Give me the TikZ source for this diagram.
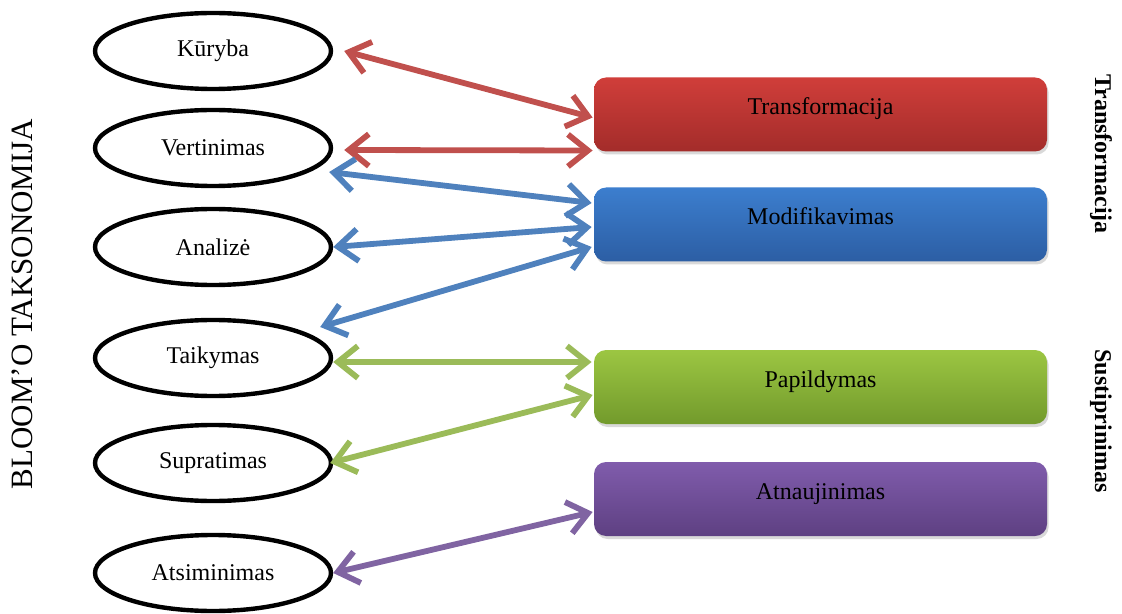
\documentclass[tikz,border=0pt]{standalone}
\usepackage{fontspec}
\setmainfont{Liberation Serif}
\usetikzlibrary{arrows.meta,calc,shadows,shapes.geometric}
\definecolor{redline}{RGB}{192,80,77}
\definecolor{blueline}{RGB}{79,129,189}
\definecolor{greenline}{RGB}{155,187,89}
\definecolor{purpleline}{RGB}{128,100,162}
\begin{document}
\begin{tikzpicture}[x=0.5pt,y=-0.5pt,
    level/.style={ellipse, draw, line width=2.2pt, minimum width=118pt, minimum height=38pt, inner sep=0pt, font=\fontsize{12}{14}\selectfont},
    phase/.style={rectangle, rounded corners=6pt, minimum width=226.5pt, minimum height=37pt, text height=6pt, text depth=6pt, font=\fontsize{12}{14}\selectfont, drop shadow={shadow xshift=0.8pt, shadow yshift=-1.5pt, opacity=0.3}},
    link/.style={line width=2.9pt, {Straight Barb[length=10pt,width=16pt]}-{Straight Barb[length=10pt,width=16pt]}}]
    \useasboundingbox (0,0) rectangle (1122,614);
    % taxonomy levels
    \node[level] (kuryba) at (213,51) {Kūryba};
    \node[level] (vertinimas) at (213,148) {Vertinimas};
    \node[level] (analize) at (213,247) {Analizė};
    \node[level] (taikymas) at (213,358) {Taikymas};
    \node[level] (supratimas) at (213,463) {Supratimas};
    \node[level] (atsiminimas) at (213,573) {Atsiminimas};
    % technology use
    \node[phase, top color={rgb,255:red,208;green,62;blue,58}, bottom color={rgb,255:red,163;green,44;blue,42}] (transf) at (820.5,114.5) {Transformacija};
    \node[phase, top color={rgb,255:red,60;green,126;blue,206}, bottom color={rgb,255:red,44;green,94;blue,164}] (modif) at (820.5,224.5) {Modifikavimas};
    \node[phase, top color={rgb,255:red,156;green,198;blue,66}, bottom color={rgb,255:red,114;green,154;blue,44}] (papild) at (820.5,387) {Papildymas};
    \node[phase, top color={rgb,255:red,128;green,92;blue,172}, bottom color={rgb,255:red,94;green,64;blue,130}] (atnauj) at (820.5,499) {Atnaujinimas};
    % side titles
    \node[rotate=90, font=\fontsize{15.5}{18}\selectfont] (bloom) at (22,304) {BLOOM’O TAKSONOMIJA};
    \node[rotate=-90, font=\fontsize{12}{14}\selectfont\bfseries] (transflab) at (1101,154) {Transformacija};
    \node[rotate=-90, font=\fontsize{12}{14}\selectfont\bfseries] (sustlab) at (1101,421) {Sustiprinimas};
    \draw[link, redline] ($(kuryba.east)+(11,0)$) -- ($(transf.west)+(-1,3)$);% red
    \draw[link, redline] ($(vertinimas.east)+(11,2)$) -- ($(transf.west)+(-1,36)$);% red
    \draw[link, blueline] ($(vertinimas.east)+(-4,24)$) -- ($(modif.west)+(-2,-21.5)$);% blue
    \draw[link, blueline] (analize.east) -- ($(modif.west)+(-2,2.5)$);% blue
    \draw[link, blueline] ($(taikymas.east)+(-13,-31)$) -- ($(modif.west)+(-2,22.5)$);% blue
    \draw[link, greenline] ($(taikymas.east)+(0,4)$) -- ($(papild.west)+(-2,-25)$);% green
    \draw[link, greenline] ($(supratimas.east)+(-3,0)$) -- ($(papild.west)+(-1,8)$);% green
    \draw[link, purpleline] (atsiminimas.east) -- ($(atnauj.west)+(-1,13)$);% purple
\end{tikzpicture}
\end{document}
